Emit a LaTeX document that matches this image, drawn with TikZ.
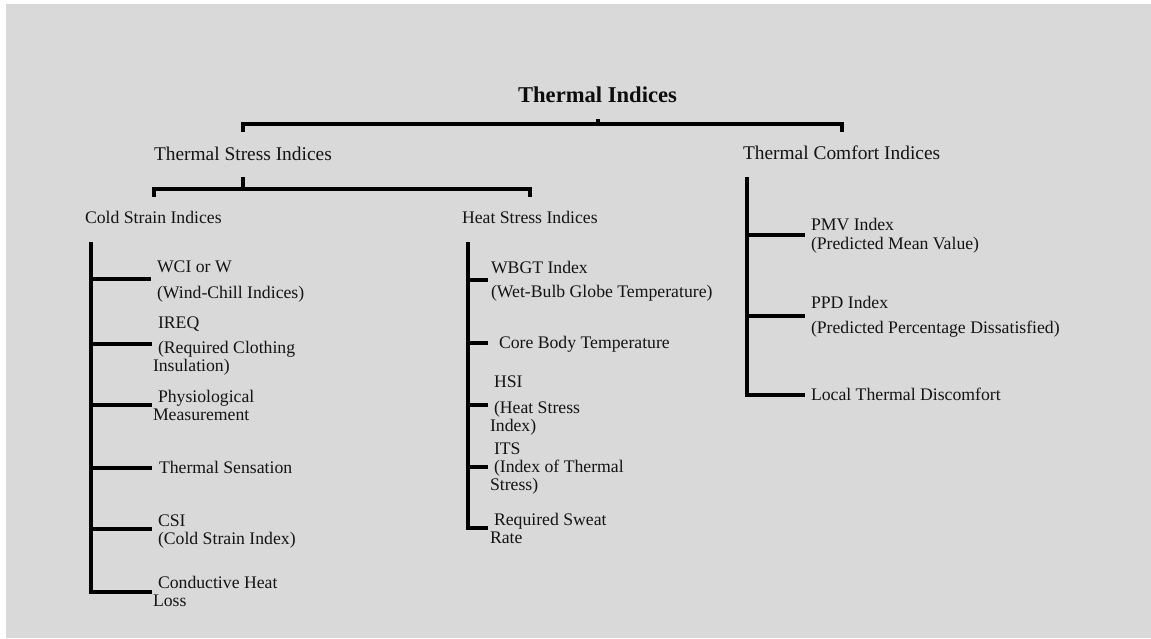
\documentclass[tikz,border=0pt]{standalone}
\usepackage{fontspec}
\setmainfont{Liberation Serif}
\begin{document}
\begin{tikzpicture}[x=1pt,y=-1pt,
  link/.style={draw=black,line width=3.4pt},
  txt/.style={inner sep=0pt,outer sep=0pt,anchor=base west,text=black!92,
    font=\fontsize{17.7}{18}\selectfont},
  head/.style={txt,font=\fontsize{19.4}{20}\selectfont},
  rootlabel/.style={inner sep=0pt,anchor=base,text=black!95,
    font=\fontsize{22.6}{24}\selectfont\bfseries}]
\newcommand{\lines}[1]{\begin{tabular}[t]{@{}l@{}}#1\end{tabular}}
% canvas
\useasboundingbox (0,0) rectangle (1151,639);
\fill[white] (0,0) rectangle (1151,639);
\fill[black!15] (6,4) rectangle (1151,638);

% ---- labels ----
\node[rootlabel] (root) at (597.5,103) {Thermal Indices};
\node[head] (stress) at (154,161) {Thermal Stress Indices};
\node[head] (comfort) at (743,160) {Thermal Comfort Indices};
\node[txt] (cold) at (85,224) {Cold Strain Indices};
\node[txt] (heat) at (462,224) {Heat Stress Indices};

% cold strain leaves
\node[txt] (wci) at (157,272) {\lines{WCI or W\\[8pt](Wind-Chill Indices)}};
\node[txt] (ireq) at (153,328) {\lines{\hspace{5pt}IREQ\\[7pt]\hspace{5pt}(Required Clothing\\Insulation)}};
\node[txt] (phys) at (153,402) {\lines{\hspace{5pt}Physiological\\Measurement}};
\node[txt] (sens) at (159,473) {Thermal Sensation};
\node[txt] (csi) at (158,526) {\lines{CSI\\(Cold Strain Index)}};
\node[txt] (cond) at (153,588) {\lines{\hspace{5pt}Conductive Heat\\Loss}};

% heat stress leaves
\node[txt] (wbgt) at (491,273) {\lines{WBGT Index\\[6pt](Wet-Bulb Globe Temperature)}};
\node[txt] (core) at (499,348) {Core Body Temperature};
\node[txt] (hsi) at (490,387) {\lines{\hspace{4pt}HSI\\[8pt]\hspace{4pt}(Heat Stress\\Index)}};
\node[txt] (its) at (490,454) {\lines{\hspace{4pt}ITS\\\hspace{4pt}(Index of Thermal\\Stress)}};
\node[txt] (rsr) at (490,525) {\lines{\hspace{4pt}Required Sweat\\Rate}};

% thermal comfort leaves
\node[txt] (pmv) at (811,231) {\lines{PMV Index\\(Predicted Mean Value)}};
\node[txt] (ppd) at (811,308) {\lines{PPD Index\\[7pt](Predicted Percentage Dissatisfied)}};
\node[txt] (local) at (811,400) {Local Thermal Discomfort};

% ---- connector end points ----
\coordinate (rootTick) at (598,119);
\coordinate (rootBar) at (598,124);
\coordinate (toStress) at (243,132);
\coordinate (toComfort) at (842,132);

\coordinate (stressTick) at (243,177);
\coordinate (stressBar) at (243,189);
\coordinate (toCold) at (154,197);
\coordinate (toHeat) at (530,197);

\coordinate (coldTop) at (91,242);
\coordinate (heatTop) at (468,242);
\coordinate (comfortTop) at (747,177);

\coordinate (wciEnd) at (151,279);
\coordinate (ireqEnd) at (152,344);
\coordinate (physEnd) at (152,405);
\coordinate (sensEnd) at (152,468);
\coordinate (csiEnd) at (152,529);
\coordinate (condEnd) at (152,592);

\coordinate (wbgtEnd) at (488,280);
\coordinate (coreEnd) at (488,343);
\coordinate (hsiEnd) at (488,405);
\coordinate (itsEnd) at (488,467);
\coordinate (rsrEnd) at (488,528);

\coordinate (pmvEnd) at (805,235);
\coordinate (ppdEnd) at (805,316);
\coordinate (localEnd) at (805,395);

% ---- connectors ----
\draw[link] (rootTick) -- (rootBar);
\draw[link] (toStress) |- (rootBar) -| (toComfort);

\draw[link] (stressTick) -- (stressBar);
\draw[link] (toCold) |- (stressBar) -| (toHeat);

\draw[link] (coldTop) |- (condEnd);
\foreach \e in {wciEnd,ireqEnd,physEnd,sensEnd,csiEnd}
  \draw[link] (coldTop |- \e) -- (\e);

\draw[link] (heatTop) |- (rsrEnd);
\foreach \e in {wbgtEnd,coreEnd,hsiEnd,itsEnd}
  \draw[link] (heatTop |- \e) -- (\e);

\draw[link] (comfortTop) |- (localEnd);
\foreach \e in {pmvEnd,ppdEnd}
  \draw[link] (comfortTop |- \e) -- (\e);
\end{tikzpicture}
\end{document}
